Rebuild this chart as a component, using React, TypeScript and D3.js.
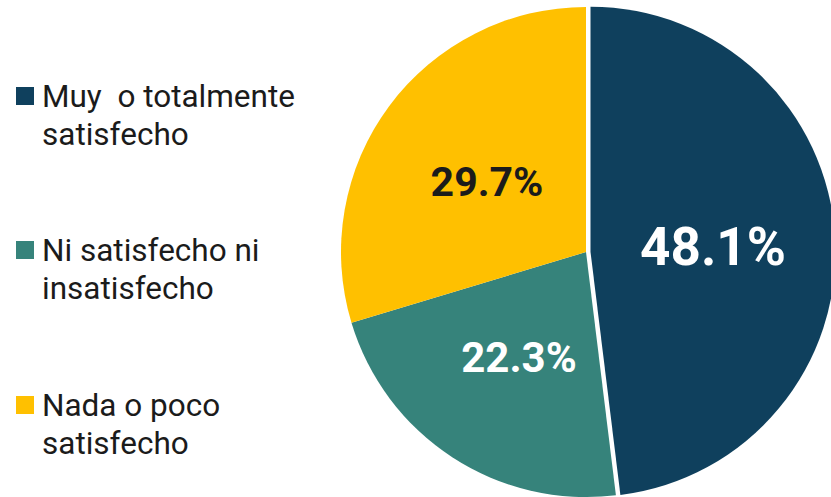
import React, { useEffect, useRef } from "react";
import * as d3 from "d3";

// chart data
const categories = ["Muy  o totalmente satisfecho", "Ni satisfecho ni insatisfecho", "Nada o poco satisfecho"];
const legendLines = [
  ["Muy  o totalmente", "satisfecho"],
  ["Ni satisfecho ni", "insatisfecho"],
  ["Nada o poco", "satisfecho"],
];
const values = [48.1, 22.3, 29.7];
const colors = ["#0f405d", "#36837b", "#ffc000"];
const labelColors = ["#ffffff", "#ffffff", "#1b1b1b"];

const W = 831,
  H = 497;

export default function App() {
  const ref = useRef<SVGSVGElement>(null);

  useEffect(() => {
    const svg = d3.select(ref.current);
    svg.selectAll("*").remove();

    const cx = 586,
      cy = 252,
      r = 245;

    const pie = d3
      .pie<number>()
      .sort(null)
      .value((d) => d);
    const arcs = pie(values);
    const arc = d3.arc<d3.PieArcDatum<number>>().innerRadius(0).outerRadius(r);

    const g = svg.append("g").attr("transform", `translate(${cx},${cy})`);

    // first slice pulled out a little
    const offset = (d: d3.PieArcDatum<number>, i: number) => {
      if (i !== 0) return [0, 0];
      const a = (d.startAngle + d.endAngle) / 2;
      return [Math.sin(a) * 4.5, -Math.cos(a) * 4.5];
    };

    g.selectAll("path")
      .data(arcs)
      .enter()
      .append("path")
      .attr("d", arc)
      .attr("fill", (d, i) => colors[i])
      .attr("transform", (d, i) => `translate(${offset(d, i).join(",")})`);

    // value labels
    const labelPos = [
      [127, 13],
      [-67, 120],
      [-99, -56],
    ];
    const labelSize = [53, 42, 41];
    g.selectAll("text.val")
      .data(arcs)
      .enter()
      .append("text")
      .attr("class", "val")
      .attr("x", (d, i) => labelPos[i][0])
      .attr("y", (d, i) => labelPos[i][1])
      .attr("text-anchor", "middle")
      .attr("font-family", "Roboto")
      .attr("font-weight", "bold")
      .attr("font-size", (d, i) => labelSize[i])
      .attr("fill", (d, i) => labelColors[i])
      .text((d) => d.value.toFixed(1) + "%");

    // legend
    const legendY = [87, 241, 396];
    const leg = svg
      .selectAll("g.leg")
      .data(categories)
      .enter()
      .append("g")
      .attr("class", "leg")
      .attr("transform", (d, i) => `translate(16,${legendY[i]})`);

    leg
      .append("rect")
      .attr("width", 18)
      .attr("height", 18)
      .attr("fill", (d, i) => colors[i]);

    leg.each(function (d, i) {
      const t = d3
        .select(this)
        .append("text")
        .attr("font-family", "Roboto")
        .attr("font-size", 31.5)
        .attr("fill", "#1b1b1b")
        .style("white-space", "pre");
      legendLines[i].forEach((line, j) => {
        t.append("tspan")
          .attr("x", 26)
          .attr("y", 20 + j * 38)
          .text(line);
      });
    });
  }, []);

  return (
    <svg
      ref={ref}
      width={W}
      height={H}
      style={{ position: "absolute", left: 0, top: 0, background: "#fff" }}
    />
  );
}
